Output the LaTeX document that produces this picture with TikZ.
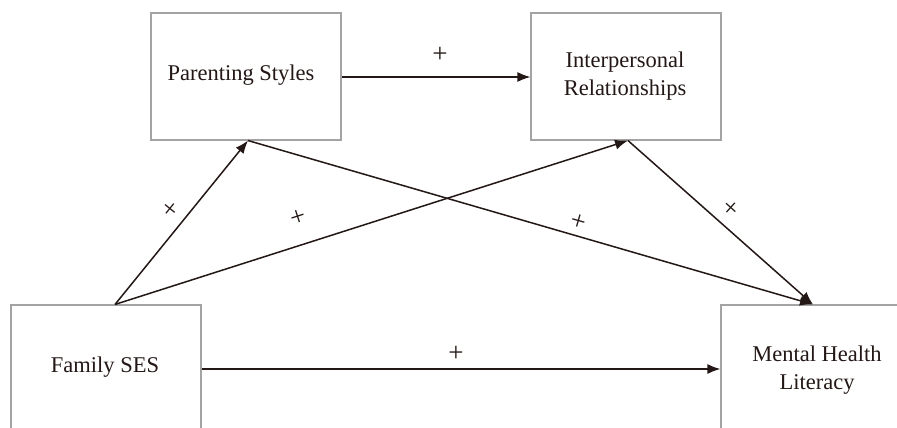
\documentclass[tikz,border=0pt]{standalone}
\usepackage{fontspec}
\setmainfont{Liberation Serif}
\usetikzlibrary{arrows.meta,calc}
\definecolor{ink}{HTML}{231815}
\definecolor{boxgray}{HTML}{A3A3A3}
\begin{document}
\begin{tikzpicture}[x=1pt,y=-1pt,
  varbox/.style={draw=boxgray,line width=1.1pt,minimum width=190pt,minimum height=127pt,inner sep=0pt},
  vartext/.style={text=ink,font=\fontsize{22.5}{28}\selectfont,align=center,inner sep=0pt},
  link/.style={draw=ink,line width=1.5pt,-{Latex[length=13pt,width=10pt]}},
  sign/.style={font=\fontsize{27}{27}\selectfont,text=ink,inner sep=0pt}]
\useasboundingbox (0,0) rectangle (897,428);
\fill[white] (0,0) rectangle (897,428);
\node[varbox] (ps) at (246,76.5) {};
\node[vartext] (pst) at (241,75) {Parenting Styles};
\node[varbox] (ir) at (626,76.5) {};
\node[vartext] (irt) at (625,76) {Interpersonal\\Relationships};
\node[varbox] (fs) at (106,368.5) {};
\node[vartext] (fst) at (105,367) {Family SES};
\node[varbox] (mh) at (816,368.5) {};
\node[vartext] (mht) at (817,370) {Mental Health\\Literacy};
\coordinate (fsTop) at ($(fs.north)+(9,0)$);
\coordinate (psBot) at ($(ps.south)+(2,0)$);
\coordinate (irBot) at ($(ir.south)+(2,0)$);
\coordinate (mhTop) at ($(mh.north)+(-3,0)$);
\draw[link] (ps.east |- 0,77) -- (ir.west |- 0,77);
\draw[link] (fs.east |- 0,369) -- (mh.west |- 0,369);
\draw[link] (fsTop) -- (psBot);
\draw[link] (fsTop) -- (irBot);
\draw[link] (psBot) -- (mhTop);
\draw[link] (irBot) -- (mhTop);
\node[sign] (s1) at (440,55) {+};
\node[sign] (s2) at (456,354) {+};
\node[sign,rotate=51] (s3) at (171,210) {+};
\node[sign,rotate=18] (s4) at (298,218) {+};
\node[sign,rotate=-16] (s5) at (578,222) {+};
\node[sign,rotate=-42] (s6) at (730,209) {+};
\end{tikzpicture}
\end{document}
